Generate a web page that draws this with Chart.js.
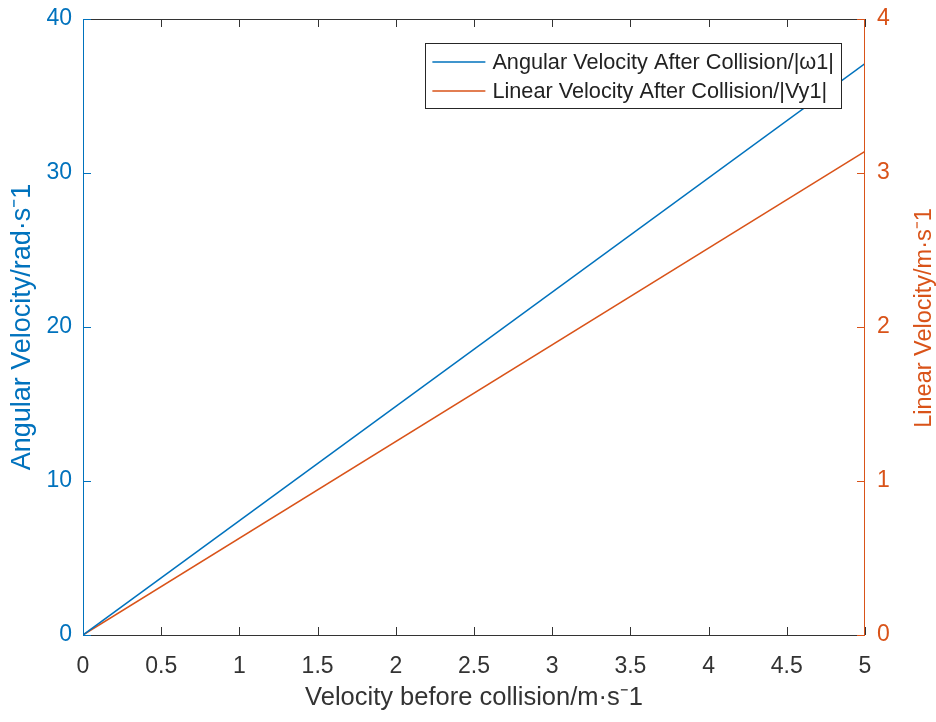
<!DOCTYPE html>
<html>
<head>
<meta charset="utf-8">
<script src="https://cdn.jsdelivr.net/npm/chart.js@4.4.1/dist/chart.umd.min.js"></script>
<style>
html,body{margin:0;padding:0;background:#fff;}
#wrap{width:936px;height:722px;}
</style>
</head>
<body>
<div id="wrap"><canvas id="c" width="936" height="722"></canvas></div>
<script>
// ---- data ----
const speedBefore = [0, 5];                 // m/s
const angularAfter = [0, 37.1];             // rad/s  (|ω1|)
const linearAfter = [0, 3.14];              // m/s    (|Vy1|)
const seriesLabels = ['Angular Velocity After Collision/|ω1|', 'Linear Velocity After Collision/|Vy1|'];
const xTicks = [0, 0.5, 1, 1.5, 2, 2.5, 3, 3.5, 4, 4.5, 5];
const yLeftTicks = [0, 10, 20, 30, 40];
const yRightTicks = [0, 1, 2, 3, 4];
const xTitle = 'Velocity before collision/m·s⁻1';
const yLeftTitle = 'Angular Velocity/rad·s⁻1';
const yRightTitle = 'Linear Velocity/m·s⁻1';

const BLUE = '#0072BD';
const ORANGE = '#D95319';
const DARK = '#333333';
const FONT = "'Liberation Sans', Arial, Helvetica, sans-serif";

const boxPlugin = {
  id: 'matlabBox',
  afterDatasetsDraw(chart) {
    const {ctx, chartArea: a, scales} = chart;
    const tl = 8;
    ctx.save();
    ctx.lineWidth = 1;
    // bottom & top (x axis)
    ctx.strokeStyle = DARK;
    ctx.beginPath();
    ctx.moveTo(a.left, a.bottom + 0.5); ctx.lineTo(a.right, a.bottom + 0.5);
    ctx.moveTo(a.left, a.top + 0.5); ctx.lineTo(a.right, a.top + 0.5);
    scales.x.ticks.forEach(t => {
      const px = Math.round(scales.x.getPixelForValue(t.value)) + 0.5;
      ctx.moveTo(px, a.bottom); ctx.lineTo(px, a.bottom - tl);
      ctx.moveTo(px, a.top); ctx.lineTo(px, a.top + tl);
    });
    ctx.stroke();
    // left axis
    ctx.strokeStyle = BLUE;
    ctx.beginPath();
    ctx.moveTo(a.left + 0.5, a.top); ctx.lineTo(a.left + 0.5, a.bottom + 1);
    scales.y.ticks.forEach(t => {
      const py = Math.round(scales.y.getPixelForValue(t.value)) + 0.5;
      ctx.moveTo(a.left, py); ctx.lineTo(a.left + tl, py);
    });
    ctx.stroke();
    // right axis
    ctx.strokeStyle = ORANGE;
    ctx.beginPath();
    ctx.moveTo(a.right - 0.5, a.top); ctx.lineTo(a.right - 0.5, a.bottom + 1);
    scales.y1.ticks.forEach(t => {
      const py = Math.round(scales.y1.getPixelForValue(t.value)) + 0.5;
      ctx.moveTo(a.right, py); ctx.lineTo(a.right - tl, py);
    });
    ctx.stroke();

    // right axis title (reads bottom-to-top like the reference)
    ctx.save();
    ctx.font = '23.5px ' + FONT;
    ctx.fillStyle = ORANGE;
    ctx.textAlign = 'center';
    ctx.textBaseline = 'middle';
    ctx.translate(scales.y1.right - 11, (a.top + a.bottom) / 2 - 9);
    ctx.rotate(-Math.PI / 2);
    ctx.fillText(yRightTitle, 0, 0);
    ctx.restore();

    // legend box inside plot, top-right
    const fs = 21.7;
    ctx.font = fs + 'px ' + FONT;
    const ds = chart.data.datasets;
    const textW = Math.max(...ds.map(d => ctx.measureText(d.label).width));
    const right = a.right - 24, top = a.top + 24;
    const sampleL = 53, gap = 7, padL = 7, padR = 7, rowH = 29;
    const w = padL + sampleL + gap + textW + padR;
    const h = 65;
    const left = right - w;
    ctx.fillStyle = '#fff';
    ctx.fillRect(left, top, w, h);
    ctx.strokeStyle = '#262626';
    ctx.lineWidth = 1;
    ctx.strokeRect(Math.round(left) + 0.5, Math.round(top) + 0.5, Math.round(w), Math.round(h));
    ds.forEach((d, i) => {
      const cy = top + 19 + rowH * i;
      ctx.strokeStyle = d.borderColor;
      ctx.lineWidth = 1.5;
      ctx.beginPath();
      ctx.moveTo(left + padL, cy); ctx.lineTo(left + padL + sampleL, cy);
      ctx.stroke();
      ctx.fillStyle = '#222';
      ctx.textBaseline = 'middle';
      ctx.textAlign = 'left';
      ctx.fillText(d.label, left + padL + sampleL + gap, cy + 1);
    });
    ctx.restore();
  }
};

const toPts = (xs, ys) => xs.map((x, i) => ({x: x, y: ys[i]}));
const fixTicks = arr => (s) => { s.ticks = arr.map(v => ({value: v})); };
const noPad = s => { s.paddingTop = 0; s.paddingBottom = 0; };

new Chart(document.getElementById('c'), {
  type: 'line',
  data: {
    datasets: [
      {label: seriesLabels[0], data: toPts(speedBefore, angularAfter), yAxisID: 'y',
       borderColor: BLUE, borderWidth: 1.5, pointRadius: 0, fill: false, tension: 0},
      {label: seriesLabels[1], data: toPts(speedBefore, linearAfter), yAxisID: 'y1',
       borderColor: ORANGE, borderWidth: 1.5, pointRadius: 0, fill: false, tension: 0}
    ]
  },
  options: {
    responsive: false,
    animation: false,
    devicePixelRatio: 1,
    layout: {padding: {top: 19, left: 0, right: 0, bottom: 0}},
    plugins: {legend: {display: false}, tooltip: {enabled: false}},
    scales: {
      x: {
        type: 'linear', min: 0, max: 5,
        afterBuildTicks: fixTicks(xTicks),
        afterFit: s => { s.height = 87; s.paddingLeft = 0; s.paddingRight = 0; },
        grid: {display: false, drawTicks: false},
        border: {display: false},
        ticks: {color: DARK, font: {family: FONT, size: 23}, padding: 18, maxRotation: 0, autoSkip: false,
                callback: v => String(v)},
        title: {display: true, text: xTitle, color: DARK, font: {family: FONT, size: 25.5}, padding: {top: 0, bottom: 9}}
      },
      y: {
        type: 'linear', position: 'left', min: 0, max: 40,
        afterBuildTicks: fixTicks(yLeftTicks),
        afterFit: s => { s.width = 83; noPad(s); },
        grid: {display: false, drawTicks: false},
        border: {display: false},
        ticks: {color: BLUE, font: {family: FONT, size: 23}, padding: 11, callback: v => String(v)},
        title: {display: true, text: yLeftTitle, color: BLUE, font: {family: FONT, size: 27}, padding: {top: 6, bottom: 0}}
      },
      y1: {
        type: 'linear', position: 'right', min: 0, max: 4,
        afterBuildTicks: fixTicks(yRightTicks),
        afterFit: s => { s.width = 71; noPad(s); },
        grid: {display: false, drawTicks: false},
        border: {display: false},
        ticks: {color: ORANGE, font: {family: FONT, size: 23}, padding: 12, callback: v => String(v)},
        title: {display: false}
      }
    }
  },
  plugins: [boxPlugin]
});
</script>
</body>
</html>
